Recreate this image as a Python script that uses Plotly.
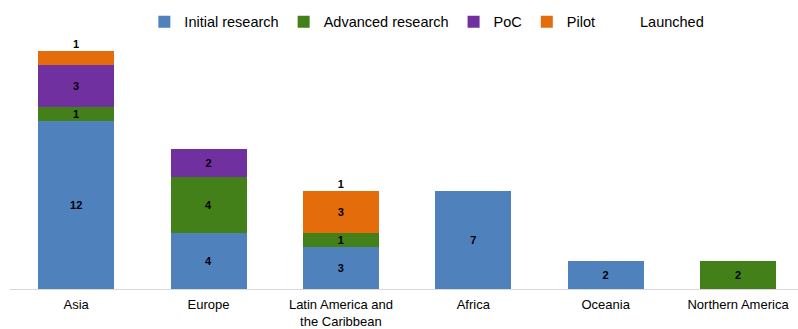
import plotly.graph_objects as go

categories = ["Asia", "Europe", "Latin America and<br>the Caribbean", "Africa", "Oceania", "Northern America"]
initial_research = [12, 4, 3, 7, 2, 0]
advanced_research = [1, 4, 1, 0, 0, 2]
poc = [3, 2, 0, 0, 0, 0]
pilot = [1, 0, 3, 0, 0, 0]
launched = [1, 0, 1, 0, 0, 0]
# data labels shown in the reference (Asia's pilot segment carries no label)
pilot_labels = ["", "", "3", "", "", ""]

series = [
    ("Initial research", initial_research, "#4F81BD", None),
    ("Advanced research", advanced_research, "#43801A", None),
    ("PoC", poc, "#7030A0", None),
    ("Pilot", pilot, "#E46C0A", pilot_labels),
    ("Launched", launched, "#FFFFFF", None),
]

fig = go.Figure()
for name, vals, color, labels in series:
    if labels is None:
        labels = [str(v) if v else "" for v in vals]
    fig.add_trace(go.Bar(
        name=name,
        x=categories,
        y=[v if v else None for v in vals],
        marker=dict(color=color, line=dict(width=0)),
        text=labels,
        textposition="inside",
        insidetextanchor="middle",
        textangle=0,
        constraintext="none",
        textfont=dict(size=11, color="#000000", family="Liberation Sans, Arial", weight="bold"),
        hoverinfo="skip",
    ))

fig.update_layout(
    barmode="stack",
    width=798,
    height=329,
    margin=dict(l=10, r=0, t=9, b=40, autoexpand=False),
    bargap=0.426,
    paper_bgcolor="white",
    plot_bgcolor="white",
    font=dict(family="Liberation Sans, Arial", size=14, color="#000000"),
    legend=dict(
        orientation="h",
        x=0.529, xanchor="center",
        y=0.954, yanchor="middle",
        font=dict(size=14.5, color="#000000"),
        itemwidth=30,
        traceorder="normal",
        bgcolor="rgba(0,0,0,0)",
    ),
    xaxis=dict(
        range=[-0.5, 5.453],
        automargin=False,
        showline=True,
        linecolor="#D9D9D9",
        linewidth=1,
        ticks="",
        showgrid=False,
        ticklabelstandoff=3,
        tickfont=dict(size=13, color="#000000"),
    ),
    yaxis=dict(
        range=[0, 20],
        visible=False,
        showgrid=False,
        automargin=False,
    ),
    showlegend=True,
)

fig.write_html("out.html")
